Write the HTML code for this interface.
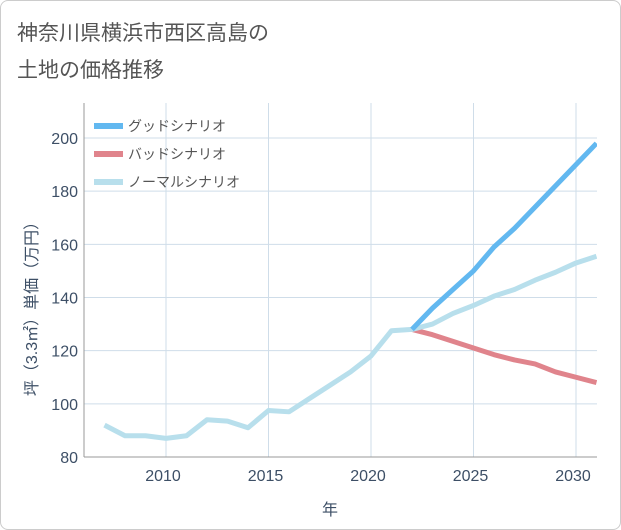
<!DOCTYPE html>
<html><head><meta charset="utf-8"><style>
body{margin:0;background:#fff;font-family:"Liberation Sans","Noto Sans CJK JP",sans-serif}
#card{position:absolute;left:0;top:0;width:619px;height:528px;border:1px solid #ccc;border-radius:8px;background:#fff}
</style></head><body>
<div id="card">
<svg id="chart" width="621" height="530" style="position:absolute;left:-1px;top:-1px">
<text x="17" y="40" font-size="21" fill="#555">神奈川県横浜市西区高島の</text>
<text x="17" y="77" font-size="21" fill="#555">土地の価格推移</text>
<g id="grid"></g><g id="series"></g><g id="axes"></g>
<text x="330" y="515" font-size="16" fill="#3d4f66" text-anchor="middle">年</text>
<text transform="translate(37,305) rotate(-90)" font-size="16" fill="#3d4f66" text-anchor="middle">坪（3.3㎡）単価（万円）</text>
</svg></div>
<script>
const years=[2007,2008,2009,2010,2011,2012,2013,2014,2015,2016,2017,2018,2019,2020,2021,2022,2023,2024,2025,2026,2027,2028,2029,2030,2031];
const normal=[92,88,88,87,88,94,93.5,91,97.5,97,102,107,112,118,127.5,128,130,134,137,140.5,143,146.5,149.5,153,155.5];
const goodYears=[2022,2023,2024,2025,2026,2027,2028,2029,2030,2031];
const good=[128,136,143,150,159,166,174,182,190,198];
const bad=[128,126,123.5,121,118.5,116.5,115,112,110,108];
const xTicks=[2010,2015,2020,2025,2030];
const yTicks=[80,100,120,140,160,180,200];
const L=84,R=597,T=103,B=457;
const X=y=>166+(y-2010)*20.5;
const Y=v=>457-(v-80)*(457-138)/120;
const NS='http://www.w3.org/2000/svg';
function mk(p,tag,at){const e=document.createElementNS(NS,tag);for(const k in at)e.setAttribute(k,at[k]);p.appendChild(e);return e;}
const grid=document.getElementById('grid'),ser=document.getElementById('series'),ax=document.getElementById('axes');
mk(grid,'rect',{x:L,y:T,width:R-L,height:B-T,fill:'#fff',stroke:'none'});
xTicks.forEach(t=>{const l=mk(grid,'line',{x1:X(t),x2:X(t),y1:T,y2:B,stroke:'#cfdde9'});
const tx=mk(ax,'text',{x:X(t)-3,y:B+24,'font-size':16,fill:'#3d4f66','text-anchor':'middle'});tx.textContent=t;});
yTicks.forEach(t=>{const l=mk(grid,'line',{x1:L,x2:R,y1:Y(t),y2:Y(t),stroke:'#cfdde9'});
const tx=mk(ax,'text',{x:L-6,y:Y(t)+6,'font-size':16,fill:'#3d4f66','text-anchor':'end'});tx.textContent=t;});
mk(ax,'line',{x1:L,x2:L,y1:T,y2:B,stroke:'#999'});
mk(ax,'line',{x1:L,x2:R,y1:B,y2:B,stroke:'#999'});
function line(xs,vs,c,name){const p=mk(ser,'polyline',{points:xs.map((x,i)=>X(x)+','+Y(vs[i])).join(' '),fill:'none',stroke:c,'stroke-width':5,'stroke-linejoin':'round'});}
const clip=mk(ser,'clipPath',{id:'c'});mk(clip,'rect',{x:L,y:T,width:R-L,height:B-T});ser.setAttribute('clip-path','url(#c)');
line(goodYears,bad,'#e0848c','bad-line');
line(years,normal,'#b8dfec','normal-line');
line(goodYears,good,'#62b8f0','good-line');
const leg=[['グッドシナリオ','#62b8f0'],['バッドシナリオ','#e0848c'],['ノーマルシナリオ','#b8dfec']];
leg.forEach((d,i)=>{const y=126+i*28;const g=mk(ax,'g',{});
mk(g,'rect',{x:94,y:y-3,width:29,height:6,fill:d[1]});const t=mk(g,'text',{x:128,y:y+5,'font-size':14,fill:'#555'});t.textContent=d[0];});
</script></body></html>
